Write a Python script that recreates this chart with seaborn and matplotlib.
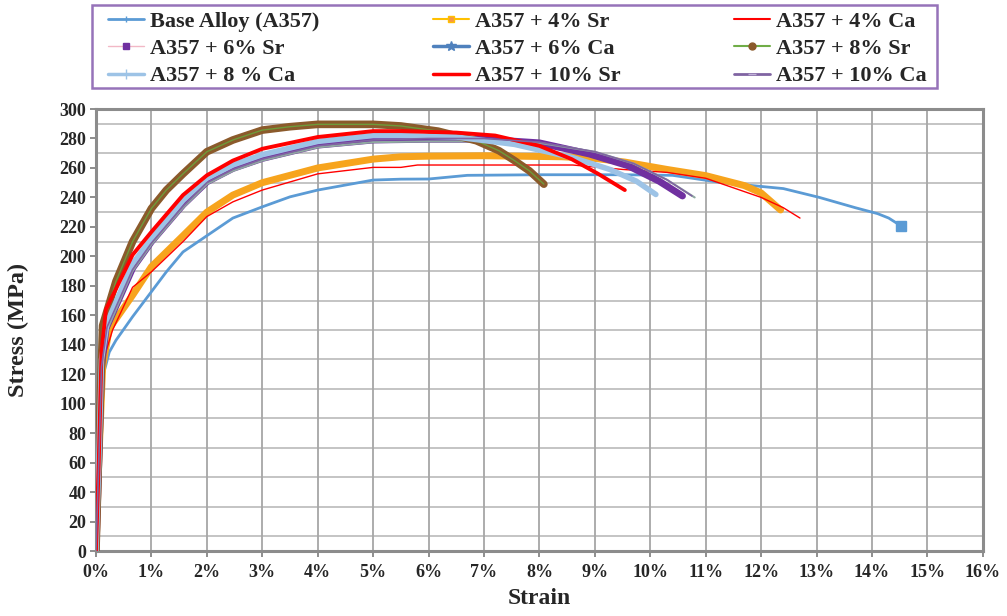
import matplotlib
matplotlib.use("Agg")
import matplotlib.pyplot as plt
from matplotlib.lines import Line2D
from matplotlib.patches import Rectangle
import seaborn as sns

# ---------------- data (strain in %, stress in MPa) ----------------
base_strain = [0, 0.05, 0.1, 0.24, 0.36, 0.66, 1.0, 1.27, 1.57, 2.0, 2.47, 3.0, 3.5, 4.0, 5.0, 5.5, 6.0, 6.7, 8.0, 9.5, 10.4, 11.3, 12.4, 13.05, 13.7, 14.1, 14.3, 14.53]
base_stress = [0, 60, 115, 135, 143, 159, 176, 189.5, 203, 214, 226, 233.6, 240.4, 245, 251.8, 252.4, 252.5, 255, 255.4, 255.4, 255, 250, 246, 240, 233, 229, 226, 220.5]

sr4_strain = [0, 0.05, 0.12, 0.24, 0.66, 1.0, 1.57, 2.0, 2.47, 3.0, 4.0, 5.0, 5.5, 6.0, 7.0, 8.4, 9.0, 9.54, 10.3, 11.0, 11.7, 12.0, 12.35]
sr4_stress = [0, 60, 125, 151, 173.6, 193, 214, 230, 241.6, 250, 260, 266, 267.6, 268, 268.3, 267.6, 266.5, 264, 259, 254.8, 248, 243, 231.5]

ca4_strain = [0, 0.05, 0.12, 0.3, 0.66, 1.0, 1.57, 2.0, 2.47, 3.0, 4.0, 5.0, 5.5, 5.8, 6.5, 8.6, 9.5, 10.3, 11.0, 12.0, 12.4, 12.7]
ca4_stress = [0, 60, 128, 150, 179, 189.5, 210, 227, 237, 245, 256, 260.4, 260.4, 262, 262, 262, 259, 257, 253, 240, 233, 226]

sr6_strain = [0, 0.05, 0.1, 0.18, 0.66, 1.0, 1.57, 2.0, 2.47, 3.0, 4.0, 5.0, 6.0, 7.0, 8.0, 8.9, 9.6, 10.16, 10.58]
sr6_stress = [0, 60, 125, 151, 192, 210, 235, 250.6, 259.7, 266.5, 275.5, 279, 279.5, 279.5, 277, 269.5, 261.5, 251, 241]

ca6_strain = [0, 0.05, 0.1, 0.2, 0.66, 1.0, 1.57, 2.0, 2.47, 3.0, 4.0, 5.0, 6.0, 7.0, 8.0, 9.0, 9.7, 10.3, 10.8]
ca6_stress = [0, 60, 125, 150, 190, 208, 233, 249, 258, 265, 274, 277.5, 278, 278, 277, 271, 263, 252, 240]

sr8_strain = [0, 0.05, 0.12, 0.36, 0.66, 1.0, 1.27, 1.57, 2.0, 2.47, 3.0, 3.5, 4.0, 5.0, 5.5, 6.17, 6.86, 7.27, 7.55, 7.82, 8.08]
sr8_stress = [0, 70, 153, 183, 210, 232.5, 245, 256, 271, 279, 285.7, 288, 289.6, 289.6, 288.5, 285, 278.5, 271.7, 265, 258, 249]

ca8_strain = [0, 0.05, 0.1, 0.2, 0.66, 1.0, 1.57, 2.0, 2.47, 3.0, 4.0, 5.0, 5.5, 6.5, 7.55, 8.6, 9.27, 9.75, 10.1]
ca8_stress = [0, 60, 130, 155, 195, 212, 238, 253, 262, 269, 278, 282, 282, 281, 276, 267, 259, 251, 242]

sr10_strain = [0, 0.05, 0.1, 0.18, 0.66, 1.0, 1.57, 2.0, 2.47, 3.0, 4.0, 5.0, 5.5, 6.5, 7.2, 8.0, 8.58, 9.06, 9.54]
sr10_stress = [0, 60, 135, 164, 201, 216.6, 241.6, 255, 265, 273, 281, 285, 285, 284, 282, 275, 266, 256, 245]

ca10_strain = [0, 0.05, 0.1, 0.2, 0.66, 1.0, 1.57, 2.0, 2.47, 3.0, 4.0, 5.0, 6.0, 7.0, 8.0, 9.0, 9.7, 10.3, 10.75]
ca10_stress = [0, 60, 125, 152, 191, 209, 234, 250, 259, 266, 275, 279, 280, 280, 277.5, 271, 263, 252, 241]

series_names = ["Base Alloy (A357)", "A357 + 4% Sr", "A357 + 4% Ca",
                "A357 + 6% Sr", "A357 + 6% Ca", "A357 + 8% Sr",
                "A357 + 8 % Ca", "A357 + 10% Sr", "A357 + 10% Ca"]

x_ticks = list(range(0, 17))
x_tick_labels = [f"{t}%" for t in x_ticks]
y_ticks = list(range(0, 301, 20))
y_grid = list(range(10, 300, 20))

# ---------------- styling ----------------
sns.set_theme(style="white")
plt.rcParams['font.family'] = ['Liberation Serif', 'DejaVu Serif']
plt.rcParams['font.weight'] = 'bold'

fig = plt.figure(figsize=(10.07, 6.16), dpi=100)
ax = fig.add_axes([0.0953, 0.1055, 0.8808, 0.7175])

for g in y_grid:
    ax.axhline(g, color="#BFBFBF", lw=1.3, zorder=0)
for t in x_ticks[1:-1]:
    ax.axvline(t, color="#A6A6A6", lw=1.3, zorder=0)

data = [
    (base_strain, base_stress, dict(color="#5B9BD5", lw=2.0)),
    (sr4_strain, sr4_stress, dict(color="#F7A41D", lw=5.0)),
    (ca4_strain, ca4_stress, dict(color="#FF0000", lw=1.0)),
    (sr6_strain, sr6_stress, dict(color="#7030A0", lw=5.0)),
    (ca6_strain, ca6_stress, dict(color="#8FA9A0", lw=1.5)),
    (sr8_strain, sr8_stress, dict(color="#8B5A2B", lw=5.5)),
    (ca8_strain, ca8_stress, dict(color="#9DC3E6", lw=4.0)),
    (sr10_strain, sr10_stress, dict(color="#FF0000", lw=2.8)),
    (ca10_strain, ca10_stress, dict(color="#8064A2", lw=1.2)),
]

for i, (xs, ys, st) in enumerate(data):
    sns.lineplot(x=xs, y=ys, ax=ax, sort=False, estimator=None,
                 color=st["color"], lw=st["lw"], zorder=2 + i)
    if i == 5:
        sns.lineplot(x=xs, y=ys, ax=ax, sort=False, estimator=None,
                     color="#6E9B3A", lw=1.0, zorder=2 + i)

# end marker on base alloy
ax.plot(base_strain[-1], base_stress[-1], marker="s", ms=7, color="#5B9BD5", zorder=20)

ax.set_xlim(0, 16)
ax.set_ylim(0, 300)
ax.set_xticks(x_ticks)
ax.set_xticklabels(x_tick_labels)
ax.set_yticks(y_ticks)
ax.tick_params(axis="both", labelsize=13, length=4, direction="out", color="#808080",
               bottom=True, left=True)
ax.tick_params(axis="x", pad=5)
ax.tick_params(axis="y", pad=3)
for lab in ax.get_xticklabels() + ax.get_yticklabels():
    lab.set_fontweight("bold")
for sp in ax.spines.values():
    sp.set_color("#8C8C8C")
    sp.set_linewidth(2.2)
    sp.set_visible(True)

ax.set_xlabel("Strain", fontsize=17, fontweight="bold")
ax.set_ylabel("Stress (MPa)", fontsize=17.5, fontweight="bold")
ax.xaxis.set_label_coords(0.5, -0.083)
ax.yaxis.set_label_coords(-0.075, 0.5)

# legend
handles = [
    Line2D([], [], color="#5B9BD5", lw=2, marker="|", ms=4),
    Line2D([], [], color="#FFC000", lw=1.5, marker="s", ms=5, mfc="#F79646", mec="#FFC000"),
    Line2D([], [], color="#FF0000", lw=1.5),
    Line2D([], [], color="#F2B8C6", lw=1, marker="s", ms=5, mfc="#7030A0", mec="#7030A0"),
    Line2D([], [], color="#4F81BD", lw=2.5, marker="*", ms=7),
    Line2D([], [], color="#70AD47", lw=1.5, marker="o", ms=5, mfc="#8B5A2B", mec="#8B5A2B"),
    Line2D([], [], color="#9DC3E6", lw=2.5, marker="+", ms=7),
    Line2D([], [], color="#FF0000", lw=2.5),
    Line2D([], [], color="#8064A2", lw=2, marker="_", ms=6, mec="#C0B0D8"),
]
order = [0, 3, 6, 1, 4, 7, 2, 5, 8]
leg = fig.legend([handles[k] for k in order], [series_names[k] for k in order],
                 ncol=3, loc="center", bbox_to_anchor=(0.514, 0.9205),
                 frameon=False, handlelength=1.6, handletextpad=0.3,
                 labelspacing=0.3, columnspacing=5.1, borderpad=0,
                 prop={"weight": "bold", "size": 16})
fig.patches.append(Rectangle((0.0914, 0.857), 0.839, 0.1347, transform=fig.transFigure,
                             fill=False, edgecolor="#9673B9", lw=1.8))

fig.savefig("out.png", dpi=100)
